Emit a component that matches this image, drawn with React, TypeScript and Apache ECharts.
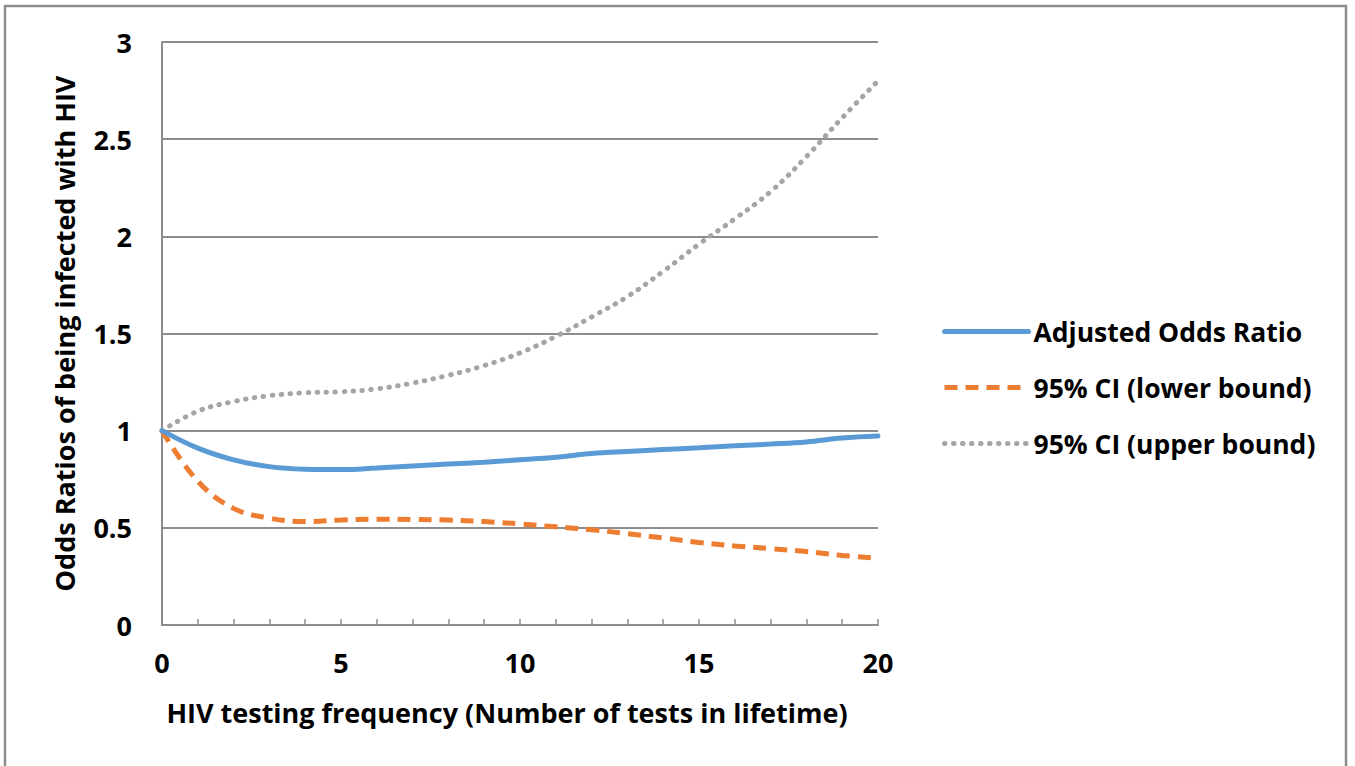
import React, { useEffect, useRef } from "react";
import * as echarts from "echarts";

const xValues = [0, 1, 2, 3, 4, 5, 6, 7, 8, 9, 10, 11, 12, 13, 14, 15, 16, 17, 18, 19, 20];
const adjustedOR = [1.0, 0.91, 0.85, 0.815, 0.802, 0.8, 0.808, 0.818, 0.828, 0.838, 0.85, 0.863, 0.882, 0.893, 0.903, 0.912, 0.922, 0.931, 0.942, 0.962, 0.972];
const lowerCI = [1.0, 0.74, 0.6, 0.55, 0.532, 0.54, 0.544, 0.543, 0.54, 0.532, 0.52, 0.505, 0.49, 0.47, 0.448, 0.425, 0.407, 0.393, 0.378, 0.358, 0.343];
const upperCI = [1.0, 1.1, 1.15, 1.18, 1.195, 1.2, 1.215, 1.245, 1.285, 1.335, 1.4, 1.485, 1.585, 1.69, 1.82, 1.96, 2.09, 2.23, 2.41, 2.61, 2.8];
const seriesNames = ["Adjusted Odds Ratio", "95% CI (lower bound)", "95% CI (upper bound)"];
const xTitle = "HIV testing frequency (Number of tests in lifetime)";
const yTitle = "Odds Ratios of being infected with HIV";

const FONT = "'Open Sans', Lato, sans-serif";
const GREY = "#8c8c8c";

export default function App() {
  const ref = useRef<HTMLDivElement>(null);
  useEffect(() => {
    if (!ref.current) return;
    const chart = echarts.init(ref.current, undefined, { renderer: "svg" });
    const pair = (ys: number[]) => xValues.map((x, i) => [x, ys[i]]);
    const boldText = (size: number) => ({ fontFamily: FONT, fontWeight: "bold", fontSize: size, color: "#000" });
    chart.setOption({
      animation: false,
      backgroundColor: "#ffffff",
      textStyle: { fontFamily: FONT },
      grid: { left: 162, right: 477, top: 42, bottom: 141, containLabel: false },
      graphic: [
        {
          type: "rect",
          shape: { x: 5, y: 6, width: 1341, height: 800 },
          style: { fill: "none", stroke: GREY, lineWidth: 2.5 },
          silent: true,
        },
      ],
      legend: {
        orient: "vertical",
        left: 942,
        top: 318,
        padding: 0,
        itemWidth: 84,
        itemHeight: 26,
        itemGap: 29,
        data: seriesNames,
        itemStyle: { opacity: 0 },
        lineStyle: { width: 5 },
        textStyle: boldText(26.5),
      },
      xAxis: {
        type: "value",
        min: 0,
        max: 20,
        interval: 5,
        name: xTitle,
        nameLocation: "middle",
        nameGap: 74,
        nameTextStyle: { ...boldText(27), padding: [0, 26, 0, 0] },
        axisLine: { show: true, onZero: false, lineStyle: { color: GREY, width: 2 } },
        axisTick: { show: true, inside: true, length: 6, lineStyle: { color: GREY, width: 1.5 } },
        minorTick: { show: true, splitNumber: 5, length: 6, lineStyle: { color: GREY, width: 1.5 } },
        splitLine: { show: false },
        axisLabel: { margin: 24, ...boldText(27) },
      },
      yAxis: {
        type: "value",
        min: 0,
        max: 3,
        interval: 0.5,
        name: yTitle,
        nameLocation: "middle",
        nameGap: 84,
        nameTextStyle: boldText(27),
        axisLine: { show: true, lineStyle: { color: GREY, width: 2 } },
        axisTick: { show: false },
        splitLine: { show: true, lineStyle: { color: GREY, width: 2 } },
        axisLabel: { margin: 30, ...boldText(27) },
      },
      series: [
        {
          name: seriesNames[0],
          type: "line",
          data: pair(adjustedOR),
          smooth: 0.4,
          symbol: "none",
          lineStyle: { color: "#5b9bd5", width: 5, cap: "round" },
          itemStyle: { color: "#5b9bd5" },
          z: 3,
        },
        {
          name: seriesNames[1],
          type: "line",
          data: pair(lowerCI),
          smooth: 0.4,
          symbol: "none",
          lineStyle: { color: "#ed7d31", width: 5, type: [13, 8] },
          itemStyle: { color: "#ed7d31" },
          z: 2,
        },
        {
          name: seriesNames[2],
          type: "line",
          data: pair(upperCI),
          smooth: 0.4,
          symbol: "none",
          lineStyle: { color: "#a5a5a5", width: 5, type: [0.5, 8.5], cap: "round" },
          itemStyle: { color: "#a5a5a5" },
          z: 1,
        },
      ],
    });
    return () => chart.dispose();
  }, []);
  return (
    <div
      ref={ref}
      style={{ position: "fixed", left: 0, top: 0, width: 1355, height: 766, background: "#fff" }}
    />
  );
}
